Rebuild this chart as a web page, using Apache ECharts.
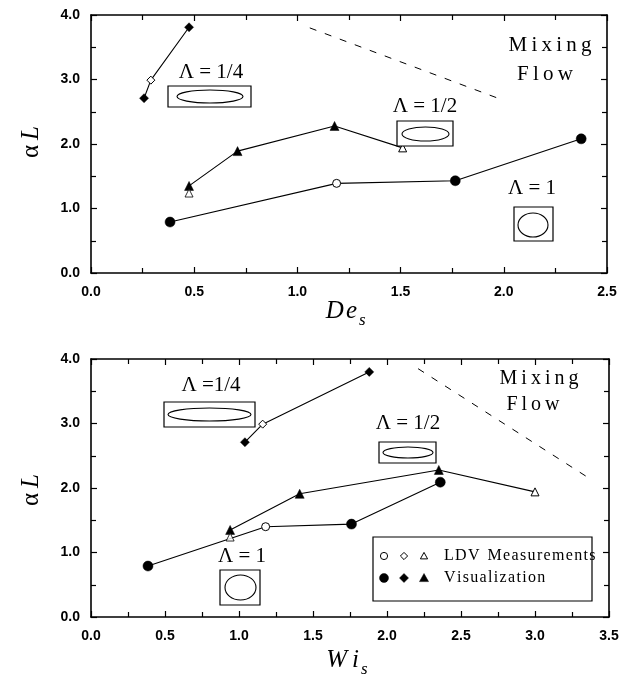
<!DOCTYPE html>
<html>
<head>
<meta charset="utf-8">
<script src="https://cdn.jsdelivr.net/npm/echarts@6/dist/echarts.min.js"></script>
<style>
  html, body { margin: 0; padding: 0; background: #fff; }
  #chart { width: 630px; height: 677px; }
</style>
</head>
<body>
<div id="chart"></div>
<script>
// ---- Upper panel: alpha*L against De_s ----
const deQuarterX = [0.257, 0.29, 0.475];
const deQuarterY = [2.71, 2.99, 3.81];
const deQuarterKind = ['vis', 'ldv', 'vis'];

const deHalfX = [0.475, 0.71, 1.18, 1.51];
const deHalfY = [1.35, 1.89, 2.28, 1.94];
const deHalfKind = ['vis', 'vis', 'vis', 'ldv'];

const deHalfLoneX = [0.475];
const deHalfLoneY = [1.24];
const deHalfLoneKind = ['ldv'];

const deOneX = [0.383, 1.19, 1.765, 2.375];
const deOneY = [0.79, 1.39, 1.43, 2.08];
const deOneKind = ['vis', 'ldv', 'vis', 'vis'];

const deBoundaryX = [1.06, 1.98];
const deBoundaryY = [3.80, 2.70];

// ---- Lower panel: alpha*L against Wi_s ----
const wiQuarterX = [1.04, 1.16, 1.88];
const wiQuarterY = [2.71, 2.99, 3.80];
const wiQuarterKind = ['vis', 'ldv', 'vis'];

const wiHalfX = [0.94, 1.41, 2.35, 3.0];
const wiHalfY = [1.35, 1.91, 2.28, 1.94];
const wiHalfKind = ['vis', 'vis', 'vis', 'ldv'];

const wiHalfLoneX = [0.94];
const wiHalfLoneY = [1.24];
const wiHalfLoneKind = ['ldv'];

const wiOneX = [0.385, 1.18, 1.76, 2.36];
const wiOneY = [0.79, 1.40, 1.44, 2.09];
const wiOneKind = ['vis', 'ldv', 'vis', 'vis'];

const wiBoundaryX = [2.21, 3.36];
const wiBoundaryY = [3.85, 2.16];

// axis tick labels
const deTicks = ['0.0', '0.5', '1.0', '1.5', '2.0', '2.5'];
const wiTicks = ['0.0', '0.5', '1.0', '1.5', '2.0', '2.5', '3.0', '3.5'];
const alphaTicks = ['0.0', '1.0', '2.0', '3.0', '4.0'];

const SERIF = '"Liberation Serif", "DejaVu Serif", serif';
const SANS = '"Liberation Sans", Arial, sans-serif';
const THIN = '\u2009';
const HAIR = '\u200A';
const spaced = (s, gap) => s.split('').join(gap);

const sizeOf = {
  circle: { vis: 10, ldv: 8 },
  diamond: { vis: 9, ldv: 8 },
  triangle: { vis: 9, ldv: 8 }
};

function points(xs, ys, kinds, shape) {
  return xs.map((x, i) => ({
    value: [x, ys[i]],
    symbol: shape,
    symbolSize: sizeOf[shape][kinds[i]],
    itemStyle: kinds[i] === 'vis'
      ? { color: '#000', borderColor: '#000', borderWidth: 0.5 }
      : { color: '#fff', borderColor: '#000', borderWidth: 1 }
  }));
}

function curve(name, gridIdx, xs, ys, kinds, shape) {
  return {
    name, type: 'line', xAxisIndex: gridIdx * 2, yAxisIndex: gridIdx * 2,
    data: points(xs, ys, kinds, shape),
    lineStyle: { color: '#000', width: 1.1 },
    showAllSymbol: true, animation: false, z: 3
  };
}

function lone(name, gridIdx, xs, ys, kinds, shape) {
  return {
    name, type: 'scatter', xAxisIndex: gridIdx * 2, yAxisIndex: gridIdx * 2,
    data: points(xs, ys, kinds, shape), animation: false, z: 4
  };
}

function boundary(name, gridIdx, xs, ys) {
  return {
    name, type: 'line', xAxisIndex: gridIdx * 2, yAxisIndex: gridIdx * 2,
    data: xs.map((x, i) => [x, ys[i]]), symbol: 'none',
    lineStyle: { color: '#000', width: 1, type: [7, 9] },
    animation: false, z: 2
  };
}

const axisLineStyle = { show: true, onZero: false, lineStyle: { color: '#000', width: 1.6 } };
const tickStyle = { show: true, inside: true, length: 6, lineStyle: { color: '#000', width: 1.2 } };
const minorStyle = { show: true, splitNumber: 2, length: 5, lineStyle: { color: '#000', width: 1.2 } };
const labelFont = { color: '#000', fontFamily: SANS, fontSize: 14, fontWeight: 'bold' };

function xAxes(gridIndex, max, ticks) {
  const base = {
    gridIndex, type: 'value', min: 0, max, interval: 0.5,
    axisLine: axisLineStyle, axisTick: tickStyle, minorTick: minorStyle,
    splitLine: { show: false }, minorSplitLine: { show: false }
  };
  return [
    Object.assign({}, base, {
      position: 'bottom',
      axisLabel: Object.assign({ margin: 12, formatter: v => ticks[Math.round(v / 0.5)] }, labelFont)
    }),
    Object.assign({}, base, { position: 'top', axisLabel: { show: false } })
  ];
}

function yAxes(gridIndex) {
  const base = {
    gridIndex, type: 'value', min: 0, max: 4, interval: 1,
    axisLine: axisLineStyle, axisTick: tickStyle, minorTick: minorStyle,
    splitLine: { show: false }, minorSplitLine: { show: false }
  };
  return [
    Object.assign({}, base, {
      position: 'left',
      axisLabel: Object.assign({ margin: 11, formatter: v => alphaTicks[Math.round(v)] }, labelFont)
    }),
    Object.assign({}, base, { position: 'right', axisLabel: { show: false } })
  ];
}

// ---- text, shape keys and legend drawn on top of the panels ----
function label(x, y, text, size) {
  return {
    type: 'text', x, y, z: 10,
    style: { text, fill: '#000', font: size + 'px ' + SERIF, align: 'center', verticalAlign: 'middle' }
  };
}
function box(x, y, w, h) {
  return { type: 'rect', z: 10, shape: { x, y, width: w, height: h },
    style: { fill: '#fff', stroke: '#000', lineWidth: 1.2 } };
}
function oval(cx, cy, rx, ry) {
  return { type: 'ellipse', z: 11, shape: { cx, cy, rx, ry },
    style: { fill: 'none', stroke: '#000', lineWidth: 1.1 } };
}
function glyph(kind, cx, cy, filled) {
  const st = filled ? { fill: '#000', stroke: '#000', lineWidth: 0.5 }
                    : { fill: '#fff', stroke: '#000', lineWidth: 1 };
  const r = filled ? 4.5 : 3.6;
  if (kind === 'circle') return { type: 'circle', z: 12, shape: { cx, cy, r }, style: st };
  if (kind === 'diamond') return { type: 'polygon', z: 12,
    shape: { points: [[cx, cy - r], [cx + r, cy], [cx, cy + r], [cx - r, cy]] }, style: st };
  return { type: 'polygon', z: 12,
    shape: { points: [[cx, cy - r], [cx + r, cy + r * 0.8], [cx - r, cy + r * 0.8]] }, style: st };
}
function axisTitle(x, y, main, sub) {
  return [
    { type: 'text', x, y, z: 10,
      style: { text: main, fill: '#000', font: 'italic 25px ' + SERIF, align: 'right', verticalAlign: 'middle' } },
    { type: 'text', x: x + 2, y: y + 10, z: 10,
      style: { text: sub, fill: '#000', font: 'italic 17px ' + SERIF, align: 'left', verticalAlign: 'middle' } }
  ];
}
function alphaTitle(x, y) {
  return {
    type: 'text', x, y, rotation: Math.PI / 2, z: 10,
    style: {
      rich: {
        a: { font: '25px ' + SERIF, fill: '#000' },
        l: { font: 'italic 25px ' + SERIF, fill: '#000' }
      },
      text: '{a|α}{l|' + THIN + 'L}', align: 'center', verticalAlign: 'middle'
    }
  };
}

const graphics = [
  // upper panel
  alphaTitle(31, 142),
  ...axisTitle(357, 311, spaced('De', HAIR), 's'),
  label(211, 72, 'Λ = 1/4', 21),
  box(168, 86, 83, 21), oval(210, 96.5, 33, 6.5),
  label(425, 106, 'Λ = 1/2', 21),
  box(397, 121, 56, 25), oval(425.5, 134, 23.5, 7),
  label(532, 188, 'Λ = 1', 21),
  box(514, 207, 39, 34), oval(533, 225, 15, 12),
  label(550, 45, spaced('Mixing', THIN), 21),
  label(545, 74, spaced('Flow', THIN), 21),
  // lower panel
  alphaTitle(31, 490),
  ...axisTitle(359, 660, spaced('Wi', THIN), 's'),
  label(211, 385, 'Λ =1/4', 21),
  box(164, 402, 91, 25), oval(209.5, 414.5, 41.5, 6.5),
  label(408, 423, 'Λ = 1/2', 21),
  box(379, 442, 57, 21), oval(408, 452.5, 25, 5.5),
  label(242, 556, 'Λ = 1', 21),
  box(220, 570, 40, 35), oval(240.5, 587.5, 15.5, 12.5),
  label(539, 379, spaced('Mixing', THIN), 20),
  label(533, 405, spaced('Flow', THIN), 20),
  // legend
  box(373, 537, 219, 64),
  glyph('circle', 384, 556, false), glyph('diamond', 404, 556, false), glyph('triangle', 424, 556, false),
  glyph('circle', 384, 578, true), glyph('diamond', 404, 578, true), glyph('triangle', 424, 578, true),
  { type: 'text', x: 444, y: 556, z: 12,
    style: { text: spaced('LDV', HAIR) + '  ' + spaced('Measurements', HAIR), fill: '#000', font: '16px ' + SERIF, align: 'left', verticalAlign: 'middle' } },
  { type: 'text', x: 444, y: 578, z: 12,
    style: { text: spaced('Visualization', HAIR), fill: '#000', font: '16px ' + SERIF, align: 'left', verticalAlign: 'middle' } }
];

const option = {
  animation: false,
  backgroundColor: '#fff',
  grid: [
    { left: 91, top: 15, width: 516, height: 258 },
    { left: 91, top: 359, width: 518, height: 258 }
  ],
  xAxis: [...xAxes(0, 2.5, deTicks), ...xAxes(1, 3.5, wiTicks)],
  yAxis: [...yAxes(0), ...yAxes(1)],
  series: [
    boundary('De mixing boundary', 0, deBoundaryX, deBoundaryY),
    curve('De Λ=1/4', 0, deQuarterX, deQuarterY, deQuarterKind, 'diamond'),
    curve('De Λ=1/2', 0, deHalfX, deHalfY, deHalfKind, 'triangle'),
    lone('De Λ=1/2 LDV', 0, deHalfLoneX, deHalfLoneY, deHalfLoneKind, 'triangle'),
    curve('De Λ=1', 0, deOneX, deOneY, deOneKind, 'circle'),

    boundary('Wi mixing boundary', 1, wiBoundaryX, wiBoundaryY),
    curve('Wi Λ=1/4', 1, wiQuarterX, wiQuarterY, wiQuarterKind, 'diamond'),
    curve('Wi Λ=1/2', 1, wiHalfX, wiHalfY, wiHalfKind, 'triangle'),
    lone('Wi Λ=1/2 LDV', 1, wiHalfLoneX, wiHalfLoneY, wiHalfLoneKind, 'triangle'),
    curve('Wi Λ=1', 1, wiOneX, wiOneY, wiOneKind, 'circle')
  ],
  graphic: graphics
};

const chart = echarts.init(document.getElementById('chart'), null, { renderer: 'canvas' });
chart.setOption(option);
</script>
</body>
</html>
